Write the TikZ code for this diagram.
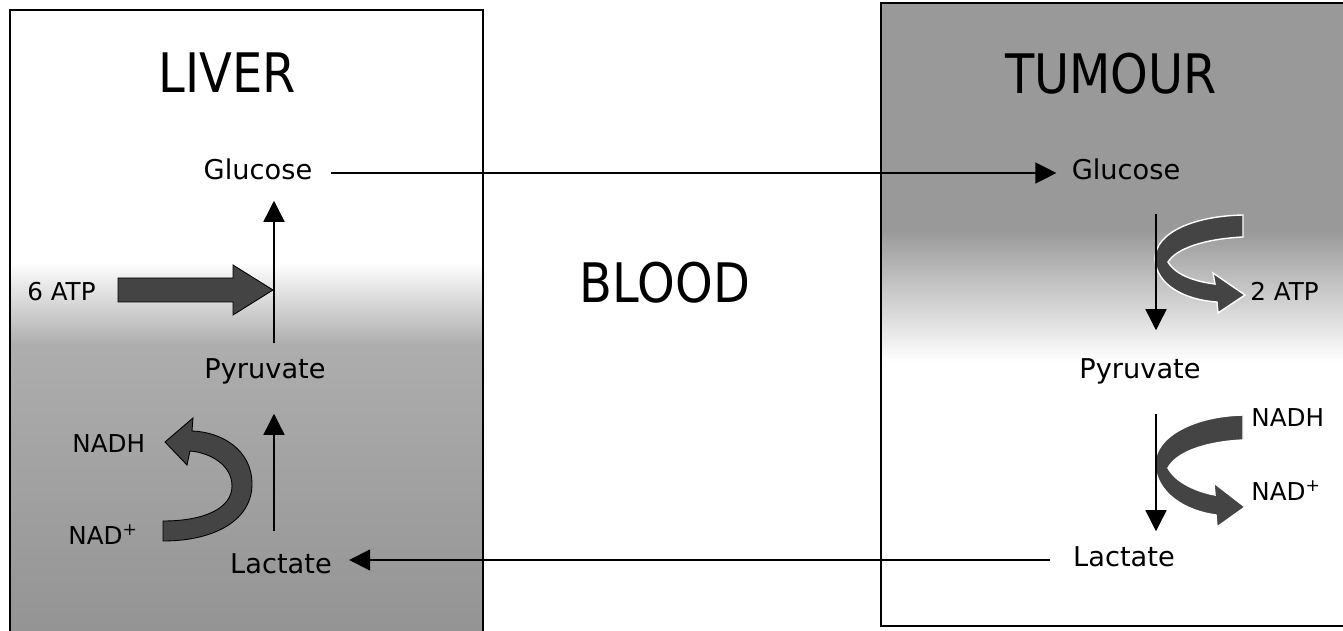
\documentclass[tikz,border=0pt]{standalone}
\usepackage{fontspec}
\setmainfont{DejaVu Sans}
\newfontfamily\titlefont{DejaVu Sans}[FakeStretch=0.88]
\usepackage{tikz}
\usetikzlibrary{arrows.meta,calc}
\definecolor{fonce}{RGB}{68,68,68}

\begin{document}
\begin{tikzpicture}[x=0.02cm, y=-0.02cm,
  lbl/.style={inner sep=0pt, text height=0.73em, text depth=0pt, font=\fontsize{15.5}{18}\selectfont},
  sml/.style={inner sep=0pt, text height=0.73em, text depth=0pt, anchor=west, font=\fontsize{14}{17}\selectfont},
  ttl/.style={inner sep=0pt, text height=0.73em, text depth=0pt, font=\titlefont\fontsize{31}{36}\selectfont},
  flow/.style={line width=0.8pt, -{Triangle[length=0.42cm,width=0.42cm]}},
  blockarrow/.style={fill=fonce, draw=black, line width=0.5pt},
  tumarrow/.style={fill=fonce, draw=white, line width=0.8pt}]

\useasboundingbox (0,0) rectangle (1343,631);

\fill[white] (0,0) rectangle (1343,631);
\shade[top color=white, bottom color=black!32] (10,262) rectangle (483,345);
\shade[top color=black!32, bottom color=black!42] (10,345) rectangle (483,631);
\fill[black!40] (881,3) rectangle (1343,230);
\shade[top color=black!40, bottom color=white] (881,230) rectangle (1343,362);
\draw[line width=0.8pt] (10,631) -- (10,10) -- (483,10) -- (483,631);
\draw[line width=0.8pt] (1343,3) -- (881,3) -- (881,626) -- (1343,626);

\foreach \n/\x/\y/\t in {liver/227/86/LIVER, blood/665/296/BLOOD, tumour/1111/87/TUMOUR} {
  \node[ttl] (\n) at (\x,\y) {\t};
}

\node[lbl] (liverGlc) at (258,173) {Glucose};
\node[lbl] (liverPyr) at (265,372) {Pyruvate};
\node[lbl] (liverLac) at (281,567) {Lactate};
\node[lbl] (tumGlc) at (1126,173) {Glucose};
\node[lbl] (tumPyr) at (1140,372) {Pyruvate};
\node[lbl] (tumLac) at (1124,560) {Lactate};

\node[sml] (atpSix) at (27,294) {6 ATP};
\node[sml] (nadhLiver) at (72,446) {NADH};
\node[sml] (nadLiver) at (68,538) {NAD\textsuperscript{+}};
\node[sml] (atpTwo) at (1250,294) {2 ATP};
\node[sml] (nadhTum) at (1251,420) {NADH};
\node[sml] (nadTum) at (1251,494) {NAD\textsuperscript{+}};

\draw[blockarrow] (118,278) -- (233,278) -- (233,265) -- (273,290) -- (233,315) -- (233,302) -- (118,302) -- cycle;
\draw[blockarrow] (163,521) -- (163,541) .. controls (215,541) and (252,520) .. (252,484)
  .. controls (252,450) and (222,432) .. (192,431) -- (193,418) -- (165,442) -- (187,465) -- (190,451)
  .. controls (212,453) and (232,466) .. (232,486) .. controls (232,508) and (205,521) .. (163,521) -- cycle;
\draw[tumarrow] (1243,215) .. controls (1195,216) and (1155,232) .. (1155,259)
  .. controls (1156,285) and (1185,300) .. (1217,302) -- (1218,313) -- (1245,295) -- (1213,273) -- (1215,284)
  .. controls (1198,282) and (1176,276) .. (1168,262) .. controls (1176,249) and (1203,239) .. (1243,237) -- cycle;
\draw[tumarrow] (1243,415) .. controls (1195,416) and (1155,436) .. (1155,464)
  .. controls (1156,493) and (1185,511) .. (1216,515) -- (1217,527) -- (1245,507) -- (1214,483) -- (1215,495)
  .. controls (1198,492) and (1176,483) .. (1168,468) .. controls (1176,453) and (1203,442) .. (1243,440) -- cycle;

\coordinate (lax) at (274,0);
\coordinate (tax) at (1156,0);
\draw[flow, shorten <=0.36cm, shorten >=0.3cm] (liverGlc.east) -- (tumGlc.west);
\draw[flow, shorten <=0.44cm, shorten >=0.42cm] (liverPyr.north -| lax) -- (liverGlc.south -| lax);
\draw[flow, shorten <=0.58cm, shorten >=0.7cm] (liverLac.north -| lax) -- (liverPyr.south -| lax);
\draw[flow, shorten <=0.68cm, shorten >=0.7cm] (tumGlc.south -| tax) -- (tumPyr.north -| tax);
\draw[flow, shorten <=0.7cm, shorten >=0.44cm] (tumPyr.south -| tax) -- (tumLac.north -| tax);
\draw[flow, shorten <=0.46cm, shorten >=0.34cm] (tumLac.west) -- (tumLac.west -| liverLac.east);
\end{tikzpicture}
\end{document}
